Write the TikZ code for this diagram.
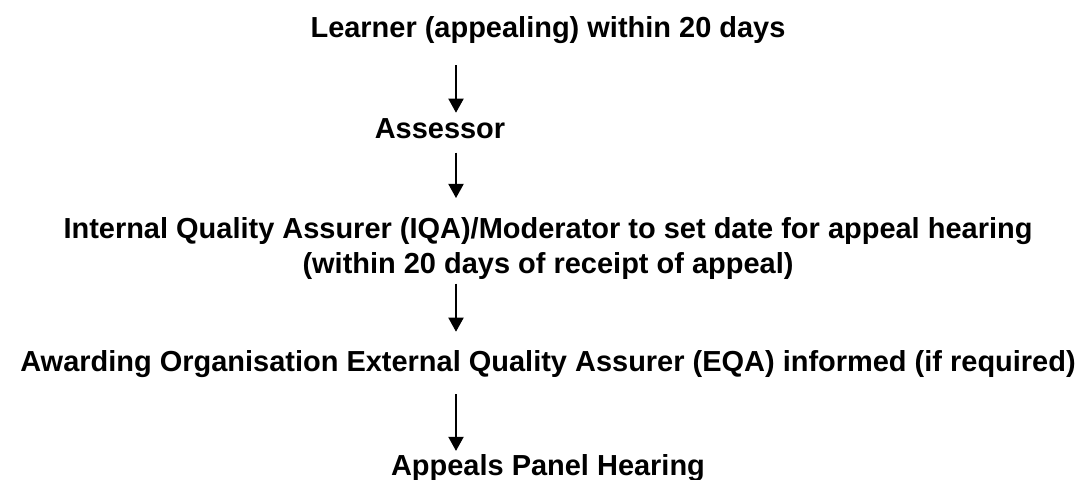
\documentclass[tikz,border=0pt]{standalone}
\usepackage{fontspec}
\setmainfont{Liberation Sans}
\usepackage{tikz}
\usetikzlibrary{arrows.meta,positioning}
\tikzset{
  step label/.style={inner sep=0pt, font=\fontsize{20.6}{24.9}\selectfont\bfseries,
              text centered, align=center},
  arr/.style={-{Triangle[width=10.7pt, length=10pt]}, line width=1.3pt, black},
}

\begin{document}
\begin{tikzpicture}[x=0.025cm, y=-0.025cm]
        \useasboundingbox (0,0) rectangle (1085,480);
        \coordinate (spine) at (456,0);

        \node[step label, anchor=base] (learner) at (548,37)
              {Learner (appealing) within 20 days};
        \node[step label, anchor=base] (assessor) at (440,138)
              {Assessor};
        \node[step label, anchor=north] (iqa) at (548,217)
              {Internal Quality Assurer (IQA)/Moderator to set date for appeal hearing\\
               (within 20 days of receipt of appeal)};
        \node[step label, anchor=base] (eqa) at (548,371)
              {Awarding Organisation External Quality Assurer (EQA) informed (if required)};
        \node[step label, anchor=base] (panel) at (548,475)
              {Appeals Panel Hearing};

        \draw[arr, shorten <=15.6pt, shorten >=3.6pt]
              (learner.south -| spine) -- (assessor.north -| spine);
        \draw[arr, shorten <=10pt, shorten >=13.5pt]
              (assessor.south -| spine) -- (iqa.north -| spine);
        \draw[arr, shorten <=2.8pt, shorten >=12.8pt]
              (iqa.south -| spine) -- (eqa.north -| spine);
        \draw[arr, shorten <=12pt, shorten >=2pt]
              (eqa.south -| spine) -- (panel.north -| spine);
      \end{tikzpicture}
\end{document}
